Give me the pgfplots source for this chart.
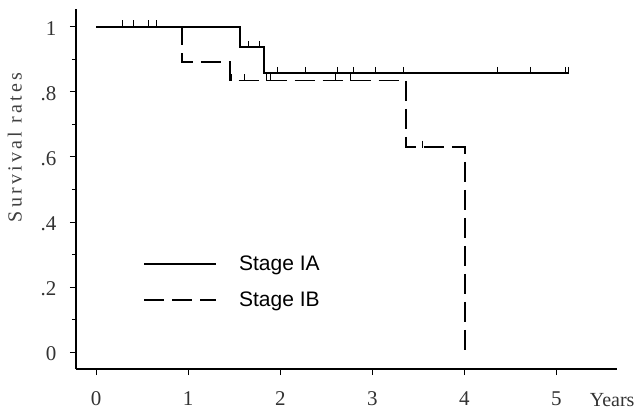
\documentclass[border=0pt]{standalone}
\usepackage{fontspec}
\setmainfont{Liberation Serif}
\newfontfamily\legfont{Liberation Sans}
\usepackage{pgfplots}
\pgfplotsset{compat=1.18}
\begin{document}
\begin{tikzpicture}
\begin{axis}[
  scale only axis,
  width=541pt, height=360pt,
  xmin=-0.22, xmax=5.66,
  ymin=-0.052, ymax=1.055,
  axis x line*=bottom, axis y line*=left,
  axis line style={line width=1.3pt},
  tick align=outside,
  major tick length=6pt, minor tick length=4pt,
  every tick/.style={black, line width=1pt},
  xtick={0,1,2,3,4,5},
  ytick={0,0.2,0.4,0.6,0.8,1},
  yticklabels={0,.2,.4,.6,.8,1},
  minor y tick num=1,
  /pgf/number format/assume math mode=true,
  tick label style={font=\fontsize{21}{24}\selectfont, text=black!80},
  xticklabel style={yshift=-13pt},
  yticklabel style={xshift=-10pt, yshift=-2pt},
  xlabel={Years},
  xlabel style={at={(axis description cs:0.991,-0.086)}, anchor=center, font=\fontsize{20}{24}\selectfont, text=black!80},
  ylabel={\addfontfeature{LetterSpace=16}Survival rates},
  ylabel style={at={(axis description cs:-0.113,0.615)}, anchor=center, rotate=0, font=\fontsize{20}{23}\selectfont, text=black!75},
  legend style={at={(axis description cs:0.124,0.2415)}, anchor=west, draw=none, fill=none,
    font=\legfont\fontsize{21}{25}\selectfont, inner xsep=0pt, inner ysep=0pt,
    row sep=16pt},
  legend cell align=left,
  legend image code/.code={\draw[#1] (0pt,0pt) -- (72pt,0pt);},
]
\addplot[const plot, black, line width=1.8pt] coordinates {
  (0,1) (1.565,0.937) (1.82,0.857) (5.13,0.857)};
\addlegendentry{\hspace{20pt}Stage IA}
\addplot[const plot, black, line width=1.8pt, dash pattern=on 20pt off 8pt] coordinates {
  (0,1) (0.93,0.891) (1.45,0.835) (3.37,0.63) (4.01,0)};
\addlegendentry{\hspace{20pt}Stage IB}
% censoring marks
\addplot[only marks, black, mark=|, mark size=3.5pt, mark options={line width=1pt, yshift=3pt}, forget plot] coordinates {
  (0.28,1) (0.41,1) (0.57,1) (0.65,1)
  (1.66,0.937) (1.77,0.937)
  (1.97,0.857) (2.27,0.857) (2.62,0.857) (2.80,0.857) (3.03,0.857) (3.34,0.857)
  (4.36,0.857) (4.72,0.857) (5.10,0.857) (5.13,0.857)};
\addplot[only marks, black, mark=|, mark size=3.5pt, mark options={line width=1pt, yshift=3pt}, forget plot] coordinates {
  (1.47,0.835) (1.61,0.835) (1.85,0.835) (1.89,0.835) (2.60,0.835) (2.76,0.835)
  (3.55,0.63)};
\end{axis}
\pgfresetboundingbox
\path[use as bounding box] (-76pt,-44pt) rectangle (564pt,369pt);
\end{tikzpicture}
\end{document}
